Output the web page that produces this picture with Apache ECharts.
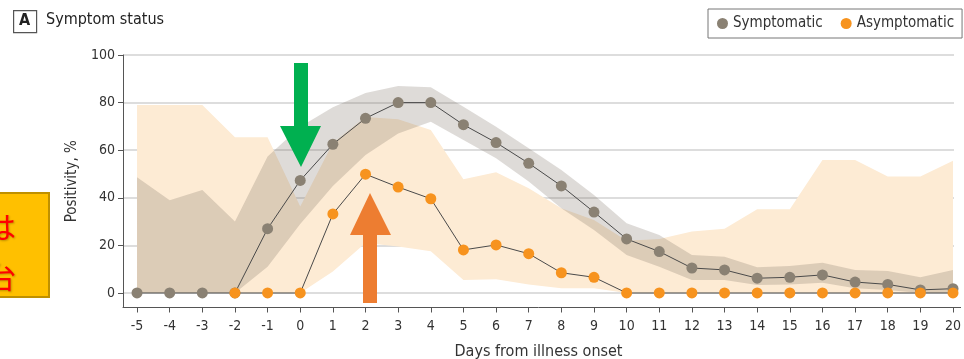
<!DOCTYPE html>
<html>
<head>
<meta charset="utf-8">
<script src="https://cdn.jsdelivr.net/npm/echarts@6/dist/echarts.min.js"></script>
<style>
html,body{margin:0;padding:0;background:#fff;}
#chart{width:964px;height:359px;}
</style>
</head>
<body>
<div id="chart"></div>
<script>
// ---- Data ----
const days = [-5,-4,-3,-2,-1,0,1,2,3,4,5,6,7,8,9,10,11,12,13,14,15,16,17,18,19,20];
const xTickLabels = ['-5','-4','-3','-2','-1','0','1','2','3','4','5','6','7','8','9','10','11','12','13','14','15','16','17','18','19','20'];
const yTicks = [0,20,40,60,80,100];

const symptomatic = [0,0,0,0,27,47.3,62.5,73.4,80,80,70.7,63.2,54.5,45,34,22.7,17.4,10.5,9.7,6.2,6.6,7.6,4.6,3.6,1.3,1.8];
const symptomaticUpper = [48.6,39,43.3,30,57.3,69.9,78,84,87,86.5,78.3,69.9,60.8,51.7,41.2,29.3,24.4,16,15.2,10.8,11.3,12.7,9.7,9.2,6.6,9.7];
const symptomaticLower = [0,0,0,0,11,29,45,58,67,72,64.3,56.6,46.8,35.6,26.5,16,11,5.5,5.5,3.4,3.6,4.3,2,1.3,0,0];

const asymDays = [-2,-1,0,1,2,3,4,5,6,7,8,9,10,11,12,13,14,15,16,17,18,19,20];
const asymptomatic = [0,0,0,33.2,49.9,44.5,39.6,18.1,20.2,16.5,8.5,6.6,0,0,0,0,0,0,0,0,0,0,0];
const asymptomaticUpper = [79,79,79,65.4,65.4,36.3,63,74,73,68.5,47.8,50.7,44,35.6,30.7,22,22.7,25.8,27,35.2,35.2,55.9,55.9,48.9,48.9,55.6];
const asymptomaticLower = [0,0,0,0,0,0,9,21,19.5,17.5,5.5,5.8,3.6,2,2,0,0,0,0,0,0,0,0,0,0,0];

const FONT = "'Liberation Sans Narrow','DejaVu Sans Condensed','Open Sans',sans-serif";

function band(name, xs, lo, hi, fill, z) {
  return {
    type: 'custom', name: name, silent: true, z: z, clip: true,
    data: [[xs[0], lo[0]]],
    renderItem: function (params, api) {
      const pts = [];
      for (let i = 0; i < xs.length; i++) pts.push(api.coord([xs[i], hi[i]]));
      for (let i = xs.length - 1; i >= 0; i--) pts.push(api.coord([xs[i], lo[i]]));
      return { type: 'polygon', shape: { points: pts }, style: { fill: fill } };
    }
  };
}

function pairs(xs, ys) { return xs.map((x, i) => [x, ys[i]]); }

const chart = echarts.init(document.getElementById('chart'), null, { renderer: 'canvas' });
const option = {
  animation: false,
  textStyle: { fontFamily: FONT },
  grid: { left: 123, right: 10, top: 55, bottom: 51.5, containLabel: false, outerBoundsMode: 'none' },
  legend: {
    data: ['Symptomatic', 'Asymptomatic'],
    left: 708, top: 9,
    padding: [7, 8, 7, 9],
    borderColor: '#777', borderWidth: 1,
    icon: 'circle', itemWidth: 11, itemHeight: 11, itemGap: 18,
    textStyle: { fontFamily: FONT, fontSize: 15, color: '#333' }
  },
  xAxis: {
    type: 'value', min: -5.43, max: 20.03,
    name: 'Days from illness onset', nameLocation: 'middle', nameGap: 36,
    nameTextStyle: { fontFamily: FONT, fontSize: 16, color: '#333' },
    axisLine: { show: true, onZero: false, lineStyle: { color: '#555', width: 1 } },
    axisTick: { show: true, length: 5, customValues: days, lineStyle: { color: '#555' } },
    axisLabel: { customValues: days, fontSize: 14, color: '#333', margin: 12, fontFamily: FONT,
      formatter: function (v) { return xTickLabels[days.indexOf(Math.round(v))]; } },
    splitLine: { show: false }
  },
  yAxis: {
    type: 'value', min: -6.1, max: 100,
    name: 'Positivity, %', nameLocation: 'middle', nameGap: 42, nameRotate: 90,
    nameTextStyle: { fontFamily: FONT, fontSize: 15, color: '#333' },
    axisLine: { show: true, onZero: false, lineStyle: { color: '#555', width: 1 } },
    axisTick: { show: true, length: 5, customValues: yTicks, lineStyle: { color: '#555' } },
    axisLabel: { customValues: yTicks, fontSize: 14, color: '#333', margin: 8, fontFamily: FONT },
    splitLine: { show: true, lineStyle: { color: '#dddddd', width: 2 } }
  },
  series: [
    band('asymBand', days, asymptomaticLower, asymptomaticUpper, '#fdebd4', 1),
    band('symBand', days, symptomaticLower, symptomaticUpper, 'rgba(118,106,92,0.24)', 2),
    {
      type: 'line', name: 'Symptomatic', z: 3,
      data: pairs(days, symptomatic),
      symbol: 'circle', symbolSize: 11,
      itemStyle: { color: '#8a8173' },
      lineStyle: { color: '#4a4a4a', width: 1 }
    },
    {
      type: 'line', name: 'Asymptomatic', z: 4,
      data: pairs(asymDays, asymptomatic),
      symbol: 'circle', symbolSize: 11,
      itemStyle: { color: '#f7931e' },
      lineStyle: { color: '#4a4a4a', width: 1 }
    }
  ],
  graphic: [
    { type: 'rect', left: 13, top: 10, shape: { width: 23, height: 22 }, style: { fill: '#fff', stroke: '#555', lineWidth: 1.2 } },
    { type: 'text', left: 19, top: 13, style: { text: 'A', fontFamily: FONT, fontWeight: 'bold', fontSize: 16, fill: '#222' } },
    { type: 'text', left: 46, top: 12, style: { text: 'Symptom status', fontFamily: FONT, fontSize: 16, fill: '#222' } },
    { type: 'line', shape: { x1: 954, y1: 307.5, x2: 961, y2: 307.5 }, style: { stroke: '#555', lineWidth: 1 } },
    // green arrow (down)
    { type: 'polygon', z: 100, shape: { points: [[294,63],[308,63],[308,126],[321,126],[301,167],[280,126],[294,126]] }, style: { fill: '#00b050' } },
    // orange arrow (up)
    { type: 'polygon', z: 100, shape: { points: [[363,303],[377,303],[377,235],[391,235],[370,193],[350,235],[363,235]] }, style: { fill: '#ed7d31' } },
    // yellow note box (cut at left edge)
    { type: 'rect', z: 100, shape: { x: -60, y: 193, width: 109, height: 104 }, style: { fill: '#ffc000', stroke: '#bf9000', lineWidth: 2 } },
    { type: 'text', z: 101, style: { x: 16, y: 227, text: 'は', align: 'right', verticalAlign: 'middle', font: '30px "Noto Sans CJK JP"', fill: '#ff0000', textShadowColor: 'rgba(0,0,0,0.25)', textShadowBlur: 2, textShadowOffsetX: 1, textShadowOffsetY: 1 } },
    { type: 'text', z: 101, style: { x: 16, y: 277, text: '台', align: 'right', verticalAlign: 'middle', font: '30px "Noto Sans CJK JP"', fill: '#ff0000', textShadowColor: 'rgba(0,0,0,0.25)', textShadowBlur: 2, textShadowOffsetX: 1, textShadowOffsetY: 1 } }
  ]
};
chart.setOption(option);
</script>
</body>
</html>
